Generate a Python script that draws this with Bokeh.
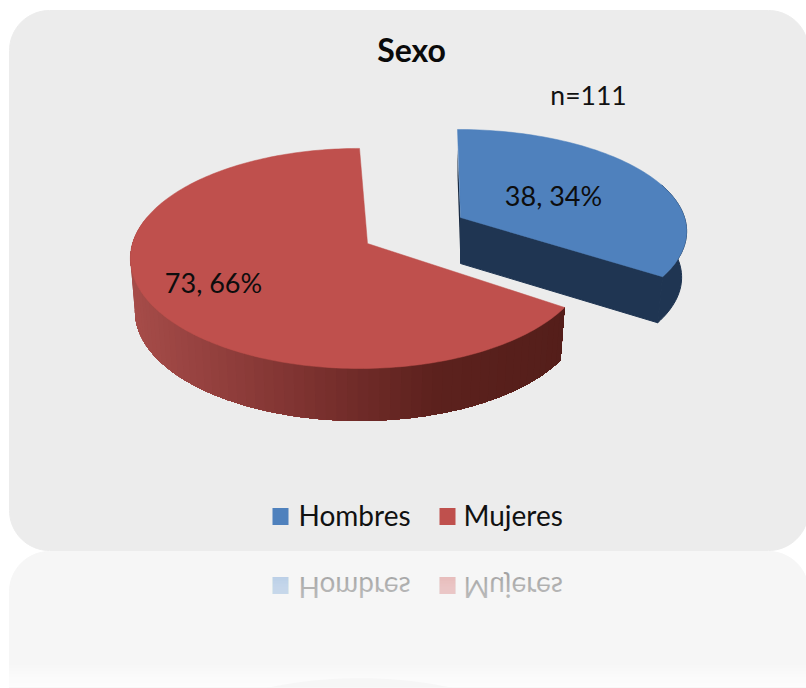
import numpy as np
from bokeh.embed import file_html
from bokeh.layouts import column
from bokeh.models import Range1d
from bokeh.plotting import figure
from bokeh.resources import INLINE

TITLE = "Sexo"
NOTE = "n=111"
categories = ["Hombres", "Mujeres"]
values = [38, 73]
colors = ["#4f81bd", "#bf504d"]

FONT = "Lato"
W, H_MAIN, H_MIRROR = 806, 551, 137
PANEL = "#ececec"
TILT = 0.136

total = sum(values)
sweep = 360.0 * values[0] / total  # clockwise from twelve o'clock


def rim(theta_deg, x0, y0, radius, depth):
    """Project points of a circle on to the tilted plane of the 3D pie."""
    t = np.radians(theta_deg)
    u, v = np.sin(t), -np.cos(t)
    w = 1 - TILT * v
    return x0 + radius * u / w, y0 + depth * v / w


def rounded_panel(x0, y0, x1, y1, r):
    a = np.linspace(0, np.pi / 2, 24)
    xs = np.r_[x0 + r - r * np.cos(a), x1 - r + r * np.sin(a),
               x1 - r + r * np.cos(a), x0 + r - r * np.sin(a)]
    ys = np.r_[y0 + r - r * np.sin(a), y0 + r - r * np.cos(a),
               y1 - r + r * np.sin(a), y1 - r + r * np.cos(a)]
    return xs, ys


def mix(stops_x, stops_rgb, x):
    return "#%02x%02x%02x" % tuple(int(round(np.interp(x, stops_x, [c[i] for c in stops_rgb]))) for i in range(3))


def new_figure(height, y_top, y_bottom, **kw):
    p = figure(width=W, height=height, output_backend="svg", toolbar_location=None,
               x_range=Range1d(0, W), y_range=Range1d(y_bottom, y_top),
               min_border=0, outline_line_color=None, background_fill_color="white",
               border_fill_color="white", **kw)
    p.axis.visible = False
    p.grid.visible = False
    return p


def draw_panel(p):
    xs, ys = rounded_panel(9, 10, 808, 550, 40)
    p.patch(xs, ys, fill_color=PANEL, line_color=PANEL, line_width=1)


def draw_legend(p):
    p.rect([280, 447], [516, 516], width=16, height=17, fill_color=colors, line_color=None)
    p.text([298, 463], [514, 514], text=categories, text_font_size="28px", text_color="#111111",
           text_font={"value": FONT}, text_baseline="middle", text_align="left")


def draw_blue(p):
    cx, cy, r, d, h = 457.0, 217.0, 227.0, 100.0, 46.0
    apex = (460.0, cy)
    t = np.linspace(0, sweep, 80)
    x, y = rim(t, cx, cy, r, d)
    side = "#1f3552"
    # start face, outer wall and the cut face below the top surface
    p.patch([x[0], x[0], apex[0], apex[0]], [y[0] + 20, y[0] + h, apex[1] + h, apex[1]],
            fill_color="#17283f", line_color=None)
    wall = t >= 70
    p.patch(np.r_[x[wall], x[wall][::-1] - 5], np.r_[y[wall], y[wall][::-1] + h],
            fill_color=side, line_color=side)
    p.patch([apex[0], x[-1], x[-1] - 5, apex[0]], [apex[1], y[-1], y[-1] + h, apex[1] + h],
            fill_color=side, line_color=side)
    p.patch(np.r_[apex[0], x], np.r_[apex[1], y], fill_color=colors[0], line_color=colors[0], line_width=0.5)


RED = dict(cx=359.0, cy=243.0, r=227.0, d=108.0, h=53.0, shrink=0.98)


def red_lower_rim(t):
    xl, yl = rim(t, RED["cx"], RED["cy"], RED["r"] * RED["shrink"], RED["d"] * 0.995)
    return xl, yl + RED["h"]


def draw_red(p):
    t = np.linspace(sweep, 360, 200)
    x, y = rim(t, RED["cx"], RED["cy"], RED["r"], RED["d"])
    xl, yl = red_lower_rim(t)
    stops_x = [130, 300, 430, 566]
    stops_c = [(166, 76, 73), (125, 50, 48), (92, 33, 29), (84, 30, 26)]
    # wall shaded in nested layers from the left edge to the right, so no seams show
    last = np.searchsorted(t, 285)
    for i in range(last, 1, -2):
        fill = mix(stops_x, stops_c, x[i])
        p.patch(np.r_[x[:i + 1], xl[:i + 1][::-1]], np.r_[y[:i + 1], yl[:i + 1][::-1]],
                fill_color=fill, line_color=None)
    p.patch(np.r_[367.0, x], np.r_[RED["cy"], y], fill_color=colors[1], line_color=colors[1], line_width=0.5)


# main chart
main = new_figure(H_MAIN, 0, H_MAIN)
draw_panel(main)
draw_blue(main)
draw_red(main)

main.text([411], [49], text=[TITLE], text_font_size="32px", text_font_style="bold", text_color="#0a0a0a",
          text_font={"value": FONT}, text_align="center", text_baseline="middle")
main.text([588], [94], text=[NOTE], text_font_size="26.5px", text_color="#111111",
          text_font={"value": FONT}, text_align="center", text_baseline="middle")
pct = [f"{v}, {round(100 * v / total)}%" for v in values]
main.text([553, 213], [195, 282], text=pct, text_font_size="27px", text_color="#0d0d0d",
          text_font={"value": FONT}, text_align="center", text_baseline="middle")
draw_legend(main)

# mirrored strip under the panel: same scene, fading to white, flipped with CSS
mirror = new_figure(H_MIRROR, H_MAIN - H_MIRROR, H_MAIN, styles={"transform": "scaleY(-1)"})
draw_panel(mirror)
draw_legend(mirror)

# nested white veils: each one starts further from the mirror line and adds to the fade
steps = np.arange(H_MAIN, H_MAIN - H_MIRROR - 1, -3)
clear = 1 - np.interp(steps, [H_MAIN - H_MIRROR, 425, 445, 516, 551], [0.985, 0.96, 0.90, 0.70, 0.52])
veil = np.r_[1 - clear[0], 1 - clear[1:] / clear[:-1]]
for y_edge, a in zip(steps, veil):
    mirror.quad(left=-10, right=W + 10, bottom=y_edge, top=H_MAIN - H_MIRROR - 20, fill_color="white",
                fill_alpha=float(a), line_color=None)

# faint trace of the pie's lower edge at the far end of the reflection
arc = np.linspace(120, 250, 60)
trace_x, trace_y = red_lower_rim(arc)
mirror.patch(trace_x, trace_y + 3, fill_color="#f6f6f6", line_color=None)

page = column(main, mirror, spacing=0)
open("out.html", "w").write(file_html(page, INLINE))
